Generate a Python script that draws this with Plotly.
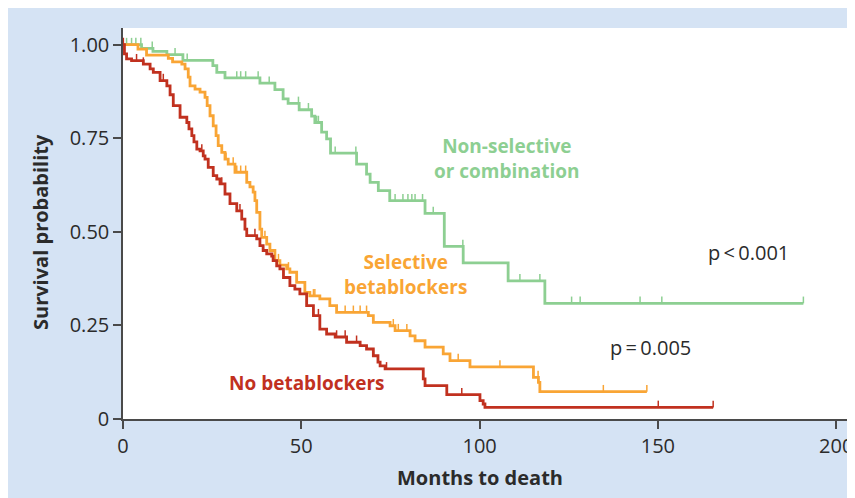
import plotly.graph_objects as go

# ---------------- data ----------------
# Non-selective or combination (green)
green_t = [5.2, 8.4, 12.3, 16.8, 25.2, 26.3, 28.6, 38.4, 42.6, 44.9, 46.3, 49.4, 52.9, 53.8,
           55.7, 57.1, 58.2, 65.5, 68.3, 69.3, 71.6, 74.8, 84.7, 90.1, 95.4, 108.0, 118.3]
green_s = [0.990, 0.982, 0.973, 0.958, 0.944, 0.926, 0.911, 0.897, 0.880, 0.855, 0.843, 0.826, 0.809, 0.792,
           0.766, 0.748, 0.710, 0.681, 0.654, 0.632, 0.610, 0.583, 0.549, 0.461, 0.417, 0.369, 0.309]
green_end = 190.8
green_cens = [1.0, 2.4, 3.6, 5.0, 8.2, 14.6, 18.0, 31.9, 33.0, 34.4, 37.9, 41.0, 49.2, 52.0, 54.3, 54.8,
              59.5, 65.3, 76.3, 78.5, 79.9, 81.0, 81.9, 84.0, 87.0, 95.3, 111.3, 116.9, 125.8, 128.2,
              145.0, 151.1, 190.8]

# Selective betablockers (orange)
orange_t = [4.2, 6.6, 12.7, 13.9, 16.5, 17.4, 18.3, 18.8, 20.2, 21.6, 23.0, 23.6, 24.4, 25.3, 26.1, 26.7,
            27.7, 28.6, 29.5, 31.4, 34.7, 35.6, 36.5, 37.0, 37.5, 38.4, 38.9, 40.3, 41.2, 42.6, 44.0,
            45.9, 46.8, 48.7, 51.0, 52.4, 55.2, 58.0, 59.9, 68.8, 70.2, 74.9, 76.3, 80.5, 81.9, 84.7,
            89.8, 91.7, 97.3, 115.1, 116.5, 116.9]
orange_s = [0.988, 0.972, 0.963, 0.954, 0.948, 0.935, 0.913, 0.890, 0.881, 0.873, 0.859, 0.837, 0.810, 0.783,
            0.757, 0.730, 0.712, 0.694, 0.681, 0.659, 0.632, 0.620, 0.606, 0.583, 0.552, 0.507, 0.485,
            0.467, 0.450, 0.423, 0.411, 0.401, 0.392, 0.365, 0.338, 0.329, 0.321, 0.303, 0.285, 0.276,
            0.258, 0.249, 0.236, 0.222, 0.209, 0.192, 0.174, 0.156, 0.139, 0.111, 0.098, 0.073]
orange_end = 146.9
orange_cens = [28.9, 30.9, 31.9, 33.0, 34.4, 39.8, 43.6, 46.4, 48.7, 53.4, 53.8, 58.0, 62.3, 64.6, 66.5,
               68.3, 75.8, 77.2, 79.6, 94.0, 105.7, 116.4, 134.7, 146.9]

# No betablockers (red)
red_t = [0.4, 1.0, 2.4, 5.7, 7.6, 8.5, 10.4, 12.3, 13.2, 14.1, 16.0, 17.9, 18.5, 19.3, 19.9, 20.7, 21.6,
         22.5, 23.0, 23.9, 25.3, 26.3, 27.2, 28.6, 30.0, 31.9, 33.3, 34.2, 34.7, 37.5, 38.4, 39.3, 40.3,
         41.7, 42.1, 43.1, 44.0, 45.0, 46.8, 48.2, 49.6, 51.5, 53.4, 55.2, 57.1, 59.5, 62.7, 66.5, 68.3,
         70.2, 71.5, 72.1, 73.5, 84.2, 84.7, 90.8, 100.1, 101.0, 101.5]
red_s = [0.975, 0.962, 0.957, 0.948, 0.935, 0.926, 0.904, 0.890, 0.866, 0.837, 0.806, 0.792, 0.775, 0.757,
         0.740, 0.721, 0.716, 0.703, 0.694, 0.672, 0.650, 0.641, 0.628, 0.601, 0.575, 0.556, 0.534, 0.507,
         0.490, 0.481, 0.463, 0.450, 0.441, 0.435, 0.423, 0.409, 0.401, 0.378, 0.356, 0.347, 0.334, 0.303,
         0.276, 0.240, 0.227, 0.219, 0.205, 0.196, 0.187, 0.169, 0.152, 0.142, 0.134, 0.107, 0.089, 0.065,
         0.049, 0.040, 0.031]
red_end = 165.5
red_cens = [0.1, 3.8, 5.7, 11.3, 22.1, 27.7, 32.8, 37.0, 51.5, 54.8, 59.9, 62.3, 65.5, 70.2, 73.9, 95.0,
            150.1, 165.5]

x_ticks = [0, 50, 100, 150, 200]
y_ticks = [0, 0.25, 0.5, 0.75, 1.0]
y_ticktext = ["0", "0.25", "0.50", "0.75", "1.00"]

GREEN = "#8dcf92"
ORANGE = "#f9a535"
RED = "#c1311f"
BLUE_BG = "#d5e3f4"
FONT = "Open Sans"
TXT = "#2b2b2b"

TICK_H = 0.018  # censor tick height in survival units


def step_path(times, surv, end):
    xs = [0] + list(times) + [end]
    ys = [1.0] + list(surv) + [surv[-1]]
    return xs, ys


def surv_at(t, times, surv):
    v = 1.0
    for tt, ss in zip(times, surv):
        if tt <= t:
            v = ss
        else:
            break
    return v


def censor_path(cens, times, surv):
    xs, ys = [], []
    for c in cens:
        v = surv_at(c, times, surv)
        xs += [c, c, None]
        ys += [v, v + TICK_H, None]
    return xs, ys


fig = go.Figure()
for times, surv, end, cens, col in [
    (green_t, green_s, green_end, green_cens, GREEN),
    (orange_t, orange_s, orange_end, orange_cens, ORANGE),
    (red_t, red_s, red_end, red_cens, RED),
]:
    xs, ys = step_path(times, surv, end)
    fig.add_trace(go.Scatter(x=xs, y=ys, mode="lines", line=dict(color=col, width=2.8, shape="hv"),
                             hoverinfo="skip", showlegend=False))
    cx, cy = censor_path(cens, times, surv)
    fig.add_trace(go.Scatter(x=cx, y=cy, mode="lines", line=dict(color=col, width=1.5),
                             hoverinfo="skip", showlegend=False, connectgaps=False))

# page has an 8px body margin; the figure (paper) starts at (8, 8) of the window
FIG_W, FIG_H = 855, 498
M_L, M_T, M_R, M_B = 115, 20, 0, 87
PLOT_W = FIG_W - M_L - M_R
PLOT_H = FIG_H - M_T - M_B
WIN_X0 = 8 + M_L          # window x of plot left
WIN_YB = 8 + M_T + PLOT_H  # window y of plot bottom


def px(xw):
    return (xw - WIN_X0) / PLOT_W


def py(yw):
    return (WIN_YB - yw) / PLOT_H


annotations = [
    dict(x=107.7, y=0.697, xref="x", yref="y", text="<b>Non-selective<br>or combination</b>",
         showarrow=False, font=dict(family=FONT, size=19, color=GREEN), align="center",
         xanchor="center", yanchor="middle"),
    dict(x=79.1, y=0.387, xref="x", yref="y", text="<b>Selective<br>betablockers</b>",
         showarrow=False, font=dict(family=FONT, size=19, color=ORANGE), align="center",
         xanchor="center", yanchor="middle"),
    dict(x=51.6, y=0.096, xref="x", yref="y", text="<b>No betablockers</b>",
         showarrow=False, font=dict(family=FONT, size=19, color=RED), align="center",
         xanchor="center", yanchor="middle"),
    dict(x=175.3, y=0.446, xref="x", yref="y", text="p\u2009<\u20090.001",
         showarrow=False, font=dict(family=FONT, size=20, color=TXT), xanchor="center", yanchor="middle"),
    dict(x=147.8, y=0.192, xref="x", yref="y", text="p\u2009=\u20090.005",
         showarrow=False, font=dict(family=FONT, size=20, color=TXT), xanchor="center", yanchor="middle"),
    dict(x=px(40), y=py(232), xref="paper", yref="paper",
         text="<b>Survival probability</b>", textangle=-90, showarrow=False,
         xanchor="center", yanchor="middle", font=dict(family=FONT, size=20, color=TXT)),
    dict(x=px(480), y=py(477), xref="paper", yref="paper",
         text="<b>Months to death</b>", showarrow=False,
         xanchor="center", yanchor="middle", font=dict(family=FONT, size=20, color=TXT)),
]

fig.update_layout(
    width=FIG_W, height=FIG_H,
    margin=dict(l=M_L, r=M_R, t=M_T, b=M_B, autoexpand=False),
    paper_bgcolor=BLUE_BG, plot_bgcolor="white",
    font=dict(family=FONT, size=20, color=TXT),
    annotations=annotations,
    xaxis=dict(range=[0, PLOT_W / 3.566], tickvals=x_ticks, showgrid=False, zeroline=False,
               showline=True, linecolor="#4a4a4a", linewidth=1.5, ticks="outside", ticklen=8,
               tickcolor="#4a4a4a", tickwidth=1.5, automargin=False,
               tickfont=dict(family=FONT, size=20, color=TXT)),
    yaxis=dict(range=[0, PLOT_H / 374.4], tickvals=y_ticks, ticktext=y_ticktext, showgrid=False,
               zeroline=False, showline=True, linecolor="#4a4a4a", linewidth=1.5, ticks="outside",
               ticklen=8, tickcolor="#4a4a4a", tickwidth=1.5, automargin=False,
               tickfont=dict(family=FONT, size=20, color=TXT)),
)

fig.write_html("out.html", post_script="document.body.style.overflow='hidden';")
